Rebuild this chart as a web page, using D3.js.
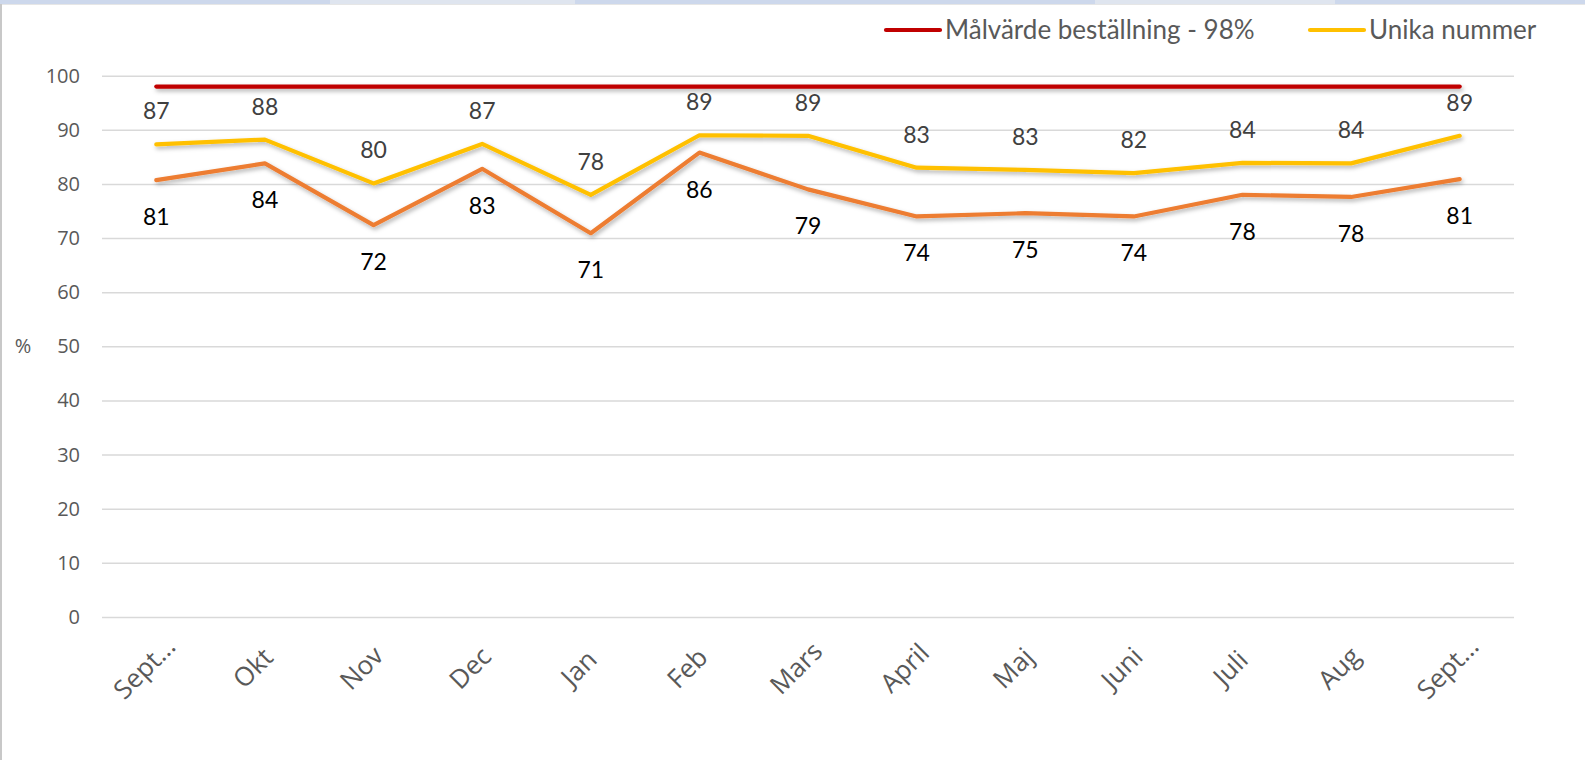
<!DOCTYPE html>
<html>
<head>
<meta charset="utf-8">
<script src="https://cdn.jsdelivr.net/npm/d3@7.9.0/dist/d3.min.js"></script>
<style>
  html, body { margin: 0; padding: 0; background: #fff; }
  svg { display: block; }
</style>
</head>
<body>
<div id="chart"></div>
<script>
// ── Data ─────────────────────────────────────────────────────────────────────
const months = ['Sept…', 'Okt', 'Nov', 'Dec', 'Jan', 'Feb', 'Mars', 'April', 'Maj', 'Juni', 'Juli', 'Aug', 'Sept…'];
const malvarde = [98, 98, 98, 98, 98, 98, 98, 98, 98, 98, 98, 98, 98];
const unikaNummer = [87.3, 88.2, 80.1, 87.4, 78.0, 89.0, 88.9, 83.0, 82.6, 82.0, 83.9, 83.8, 88.9];
const bestallning = [80.7, 83.8, 72.4, 82.8, 70.9, 85.8, 79.0, 74.0, 74.6, 74.0, 78.0, 77.6, 80.9];
const yTicks = [0, 10, 20, 30, 40, 50, 60, 70, 80, 90, 100];
const legendItems = [
  { label: 'Målvärde beställning - 98%', color: '#C00000' },
  { label: 'Unika nummer', color: '#FFC000' },
];

// ── Layout ───────────────────────────────────────────────────────────────────
const width = 1585;
const height = 760;
const plot = { left: 102, right: 1514, top: 75.7, bottom: 617 };

const svg = d3.select('#chart').append('svg')
  .attr('width', width)
  .attr('height', height);

// window frame bits (top band + left edge)
svg.append('rect').attr('x', 0).attr('y', 0).attr('width', width).attr('height', 4).attr('fill', '#cdd8ec');
svg.append('rect').attr('x', 330).attr('y', 0).attr('width', 245).attr('height', 4).attr('fill', '#dfe5ef');
svg.append('rect').attr('x', 1095).attr('y', 0).attr('width', 240).attr('height', 4).attr('fill', '#dfe5ef');
svg.append('rect').attr('x', 0).attr('y', 4).attr('width', width).attr('height', 1).attr('fill', '#e6e6e6');
svg.append('rect').attr('x', 0).attr('y', 4).attr('width', 2).attr('height', height).attr('fill', '#c8c8c8');

const defs = svg.append('defs');
defs.append('filter')
  .attr('id', 'shadow')
  .attr('x', '-5%').attr('y', '-50%').attr('width', '110%').attr('height', '200%')
  .append('feDropShadow')
  .attr('dx', 1.5).attr('dy', 2.5).attr('stdDeviation', 2)
  .attr('flood-color', '#000').attr('flood-opacity', 0.3);

const x = d3.scalePoint()
  .domain(d3.range(months.length))
  .range([plot.left, plot.right])
  .padding(0.5);

const y = d3.scaleLinear()
  .domain([0, 100])
  .range([plot.bottom, plot.top]);

// Gridlines
svg.append('g')
  .attr('class', 'grid')
  .attr('transform', `translate(${plot.left},0)`)
  .call(d3.axisLeft(y).tickValues(yTicks).tickFormat('').tickSize(-(plot.right - plot.left)))
  .call((g) => g.select('.domain').remove())
  .call((g) => g.selectAll('line').attr('stroke', '#d9d9d9').attr('stroke-width', 1.5));

// Y axis labels
svg.append('g')
  .attr('transform', `translate(${plot.left},0)`)
  .call(d3.axisLeft(y).tickValues(yTicks).tickSize(0).tickPadding(22))
  .call((g) => g.select('.domain').remove())
  .call((g) => g.selectAll('text')
    .attr('fill', '#595959')
    .style('font-family', '"Open Sans", sans-serif')
    .style('font-size', '20px'));

svg.append('text')
  .attr('x', 23).attr('y', 346)
  .attr('text-anchor', 'middle')
  .attr('dy', '0.35em')
  .attr('fill', '#595959')
  .style('font-family', '"Open Sans", sans-serif')
  .style('font-size', '20px')
  .text('%');

// X axis labels (rotated)
svg.append('g')
  .selectAll('text')
  .data(months)
  .join('text')
  .attr('transform', (d, i) => `translate(${x(i) - 12},668) rotate(-45)`)
  .attr('text-anchor', 'middle')
  .attr('dy', '0.35em')
  .attr('fill', '#595959')
  .style('font-family', '"Open Sans", sans-serif')
  .style('font-size', '26px')
  .text((d) => d);

// Lines
const line = d3.line()
  .x((d, i) => x(i))
  .y((d) => y(d));

const series = [
  { values: bestallning, color: '#ED7D31' },
  { values: unikaNummer, color: '#FFC000' },
  { values: malvarde, color: '#C00000' },
];

svg.append('g')
  .attr('filter', 'url(#shadow)')
  .selectAll('path')
  .data(series)
  .join('path')
  .attr('d', (d) => line(d.values))
  .attr('fill', 'none')
  .attr('stroke', (d) => d.color)
  .attr('stroke-width', 4.2)
  .attr('stroke-linejoin', 'round')
  .attr('stroke-linecap', 'round');

// Data labels
const labelFont = 'Lato, "Liberation Sans", sans-serif';

svg.append('g')
  .selectAll('text')
  .data(unikaNummer)
  .join('text')
  .attr('x', (d, i) => x(i))
  .attr('y', (d) => y(d) - 33)
  .attr('text-anchor', 'middle')
  .attr('dy', '0.35em')
  .attr('fill', '#404040')
  .style('font-family', labelFont)
  .style('font-size', '23px')
  .text((d) => d3.format('.0f')(d));

svg.append('g')
  .selectAll('text')
  .data(bestallning)
  .join('text')
  .attr('x', (d, i) => x(i))
  .attr('y', (d) => y(d) + 37)
  .attr('text-anchor', 'middle')
  .attr('dy', '0.35em')
  .attr('fill', '#000')
  .style('font-family', labelFont)
  .style('font-size', '23px')
  .text((d) => d3.format('.0f')(d));

// Legend
const legendX = [886, 1310];
const legend = svg.append('g')
  .selectAll('g')
  .data(legendItems)
  .join('g')
  .attr('transform', (d, i) => `translate(${legendX[i]},30)`);

legend.append('line')
  .attr('x1', 0).attr('x2', 54)
  .attr('stroke', (d) => d.color)
  .attr('stroke-width', 4.2)
  .attr('stroke-linecap', 'round');

legend.append('text')
  .attr('x', 59)
  .attr('dy', '0.35em')
  .attr('fill', '#595959')
  .style('font-family', labelFont)
  .style('font-size', '26px')
  .text((d) => d.label);
</script>
</body>
</html>
